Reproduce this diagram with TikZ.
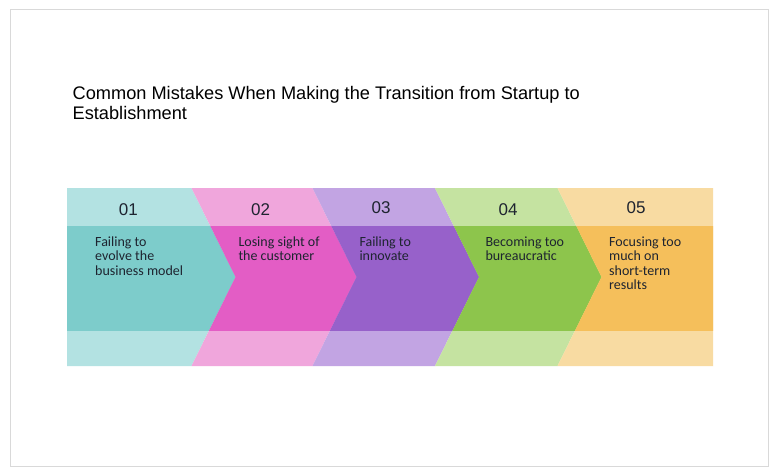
\documentclass[tikz,border=0pt]{standalone}
\usepackage{fontspec}
\setmainfont{Liberation Sans}
\newfontfamily\bodyfont{Carlito}
\definecolor{tealL}{HTML}{B3E2E2}
\definecolor{tealM}{HTML}{7DCCCB}
\definecolor{pinkL}{HTML}{F0A6DC}
\definecolor{pinkM}{HTML}{E35DC5}
\definecolor{purpL}{HTML}{C2A4E3}
\definecolor{purpM}{HTML}{9761CA}
\definecolor{grnL}{HTML}{C5E3A1}
\definecolor{grnM}{HTML}{8DC54C}
\definecolor{orgL}{HTML}{F8DBA2}
\definecolor{orgM}{HTML}{F5BF5B}
\definecolor{txt}{HTML}{1E2430}
\begin{document}
\begin{tikzpicture}[x=1pt,y=-1pt,
  numlbl/.style={font=\fontsize{17}{20}\selectfont, text=txt, inner sep=0pt},
  bodylbl/.style={font=\bodyfont\fontsize{14}{14.3}\selectfont, text=txt, inner sep=0pt, align=left, anchor=base west},
  titlelbl/.style={font=\fontsize{18.2}{20}\selectfont, text=black, inner sep=0pt, align=left, anchor=base west}]
\useasboundingbox (0,0) rectangle (780,474);
\draw[draw=black!15, line width=1pt, fill=white] (10,9.5) rectangle (768,466);
% anchor base west = baseline of the last line
\node[titlelbl] (title) at (72.5,119.3) {Common Mistakes When Making the Transition from Startup to\\Establishment};
% chevron segments
\def\yt{188}\def\ym{277}\def\yb{366}
\def\pA{(67,\yt) -- (191.5,\yt) -- (235.5,\ym) -- (191.5,\yb) -- (67,\yb) -- cycle}
\def\pB{(191.5,\yt) -- (312.5,\yt) -- (356.5,\ym) -- (312.5,\yb) -- (191.5,\yb) -- (235.5,\ym) -- cycle}
\def\pC{(312.5,\yt) -- (435,\yt) -- (479,\ym) -- (435,\yb) -- (312.5,\yb) -- (356.5,\ym) -- cycle}
\def\pD{(435,\yt) -- (557.5,\yt) -- (601.5,\ym) -- (557.5,\yb) -- (435,\yb) -- (479,\ym) -- cycle}
\def\pE{(557.5,\yt) -- (713,\yt) -- (713,\yb) -- (557.5,\yb) -- (601.5,\ym) -- cycle}
\fill[tealL] \pA; \fill[pinkL] \pB; \fill[purpL] \pC; \fill[grnL] \pD; \fill[orgL] \pE;
\begin{scope}
\clip (0,226.5) rectangle (780,330);
\fill[tealM] \pA; \fill[pinkM] \pB; \fill[purpM] \pC; \fill[grnM] \pD; \fill[orgM] \pE;
\end{scope}
% numbers
\node[numlbl] (n1) at (128.3,209.3) {01};
\node[numlbl] (n2) at (260.7,209.5) {02};
\node[numlbl] (n3) at (381,208) {03};
\node[numlbl] (n4) at (508,209.7) {04};
\node[numlbl] (n5) at (636,208) {05};
% texts (first baseline 246.5, line step 14.3)
\node[bodylbl] (t1) at (95,275.1) {Failing to\\evolve the\\business model};
\node[bodylbl] (t2) at (238.3,260.8) {Losing sight of\\the customer};
\node[bodylbl] (t3) at (359.3,260.8) {Failing to\\innovate};
\node[bodylbl] (t4) at (485.3,260.8) {Becoming too\\bureaucratic};
\node[bodylbl] (t5) at (609,289.4) {Focusing too\\much on\\short-term\\results};
\end{tikzpicture}
\end{document}
